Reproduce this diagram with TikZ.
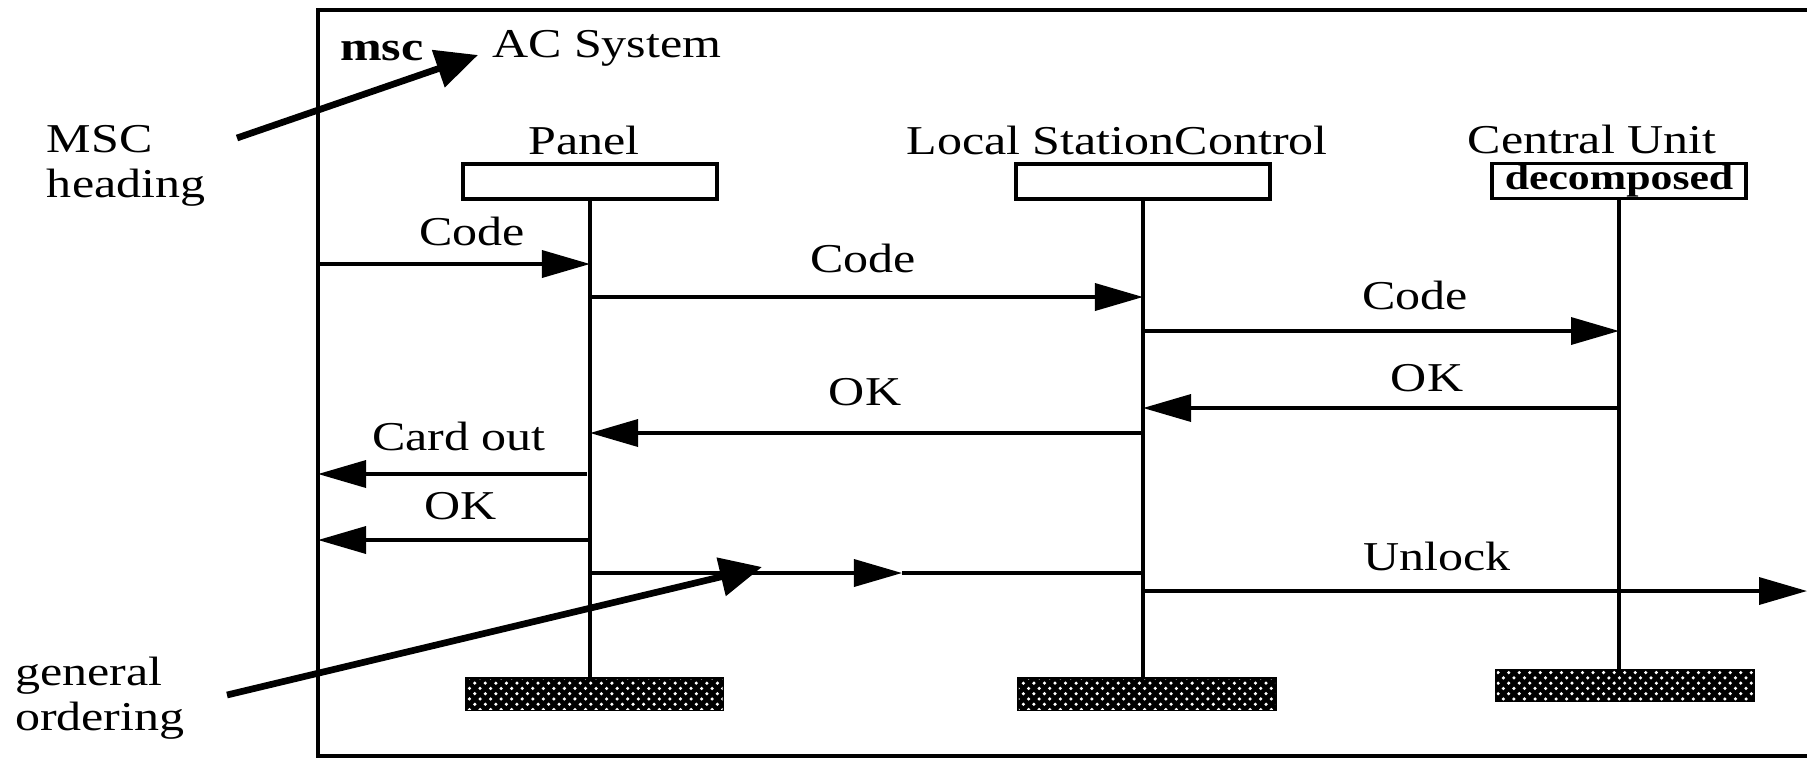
\documentclass[tikz,border=0pt]{standalone}
\usepackage{fontspec}
\setmainfont{Liberation Serif}[FakeStretch=1.22]
\usetikzlibrary{arrows.meta,patterns}

\begin{document}
\begin{tikzpicture}[x=0.01cm,y=-0.01cm,
  every node/.style={inner sep=0pt, outer sep=0pt, font=\fontsize{11.66}{12.8}\selectfont},
  inst/.style={draw, line width=1pt, minimum width=2.54cm, minimum height=0.35cm},
  endbar/.style={draw, line width=1pt, fill=black, minimum width=2.56cm, minimum height=0.30cm,
    postaction={pattern=crosshatch dots, pattern color=white}},
  life/.style={line width=1pt},
  msg/.style={line width=1pt, -{Triangle[length=4.8mm,width=2.7mm]}},
  plainmsg/.style={line width=1pt},
  note/.style={line width=1.9pt, -{Triangle[length=4.2mm,width=3.8mm]}},
  lbl/.style={anchor=base},
  side/.style={anchor=base west}
]
\useasboundingbox (0,0) rectangle (1807,757);
\clip (0,0) rectangle (1807,757);

% frame of the chart (open to the right)
\coordinate (frameTL) at (318,10);
\coordinate (frameBL) at (318,756);
\draw[line width=1.1pt] (1850,10) -- (frameTL) -- (frameBL) -- (1850,756);

% heading
\node[side] (msckw) at (340,60) {\textbf{msc}};
\node[side] (title) at (492,57) {AC System};

% instance heads
\node[inst] (panel) at (590,181.5) {};
\node[inst] (lsc) at (1143,181.5) {};
\node[inst] (cu) at (1619,181) {\fontsize{10.2}{11}\selectfont\textbf{decomposed}};
\node[lbl] (panellbl) at (584,154) {Panel};
\node[lbl] (lsclbl) at (1117,154) {Local StationControl};
\node[lbl] (culbl) at (1592,153) {Central Unit};

% instance ends
\node[endbar] (panelend) at (594.5,694) {};
\node[endbar] (lscend) at (1147,694) {};
\node[endbar] (cuend) at (1625,685.5) {};

% lifelines
\draw[life] (panel.south) -- (panel.south |- panelend.north);
\draw[life] (lsc.south) -- (lsc.south |- lscend.north);
\draw[life] (cu.south) -- (cu.south |- cuend.north);

% message levels
\coordinate (y1) at (0,264);
\coordinate (y2) at (0,297);
\coordinate (y3) at (0,331);
\coordinate (y4) at (0,408);
\coordinate (y5) at (0,433);
\coordinate (y6) at (0,474);
\coordinate (y7) at (0,540);
\coordinate (y8) at (0,573);
\coordinate (y9) at (0,591);

% messages
\draw[msg] (frameTL |- y1) -- (panel |- y1);
\draw[msg] (panel |- y2) -- (lsc |- y2);
\draw[msg] (lsc |- y3) -- (cu |- y3);
\draw[msg] (cu |- y4) -- (lsc |- y4);
\draw[msg] (lsc |- y5) -- (panel |- y5);
\coordinate (cardstart) at (587,474);
\draw[msg] (cardstart) -- (frameTL |- y6);
\draw[msg] (panel |- y7) -- (frameTL |- y7);
\coordinate (ordmid) at (902,573);
\draw[msg] (panel |- y8) -- (ordmid);
\draw[plainmsg] (ordmid) -- (lsc |- y8);
\coordinate (unlockend) at (1807,591);
\draw[msg] (lsc |- y9) -- (unlockend);

% message names
\node[lbl] (m1) at (472,245) {Code};
\node[lbl] (m2) at (863,272) {Code};
\node[lbl] (m3) at (1415,309) {Code};
\node[lbl] (m4) at (1427,391) {OK};
\node[lbl] (m5) at (865,405) {OK};
\node[lbl] (m6) at (459,450) {Card out};
\node[lbl] (m7) at (461,519) {OK};
\node[lbl] (m9) at (1437,570) {Unlock};

% annotations
\node[side] (hd1) at (47,152) {MSC};
\node[side] (hd2) at (47,197) {heading};
\node[side] (go1) at (15,685) {general};
\node[side] (go2) at (15,730) {ordering};
\coordinate (hdstart) at (237,138);
\coordinate (hdtip) at (478,55);
\draw[note] (hdstart) -- (hdtip);
\coordinate (gostart) at (227,695);
\coordinate (gotip) at (762,567);
\draw[note] (gostart) -- (gotip);
\end{tikzpicture}
\end{document}
